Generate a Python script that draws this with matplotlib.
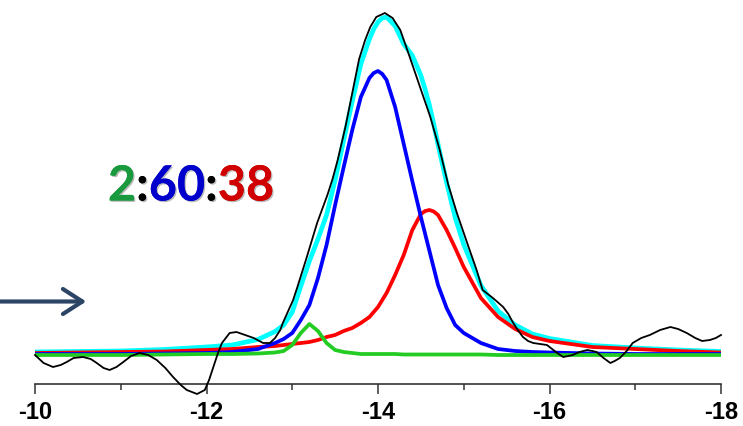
import matplotlib
matplotlib.use("Agg")
import matplotlib.pyplot as plt
import matplotlib.patheffects as pe
from matplotlib.offsetbox import TextArea, HPacker, AnnotationBbox
from matplotlib.patches import FancyArrowPatch
from matplotlib.ticker import MultipleLocator

# ── Fitted components on a shared shift grid (ppm) ───────────────────────────
shift_fit = [-10.0, -10.5, -11.0, -11.5, -12.0, -12.3, -12.6, -12.8, -12.9, -13.0,
             -13.1, -13.2, -13.3, -13.4, -13.5, -13.6, -13.7, -13.8, -13.9, -13.95,
             -14.0, -14.05, -14.1, -14.2, -14.3, -14.4, -14.5, -14.55, -14.6, -14.65,
             -14.7, -14.8, -14.9, -15.0, -15.2, -15.4, -15.6, -15.8, -16.0, -16.5,
             -17.0, -17.5, -18.0]

comp_blue = [1, 1, 1, 1.5, 2, 3, 6, 12, 16, 22,
             35, 50, 77, 110, 150, 188, 225, 258, 277, 282,
             284, 281, 275, 248, 211, 174, 138, 121, 104, 87,
             70, 47, 30, 22, 12, 6, 4, 3, 2.5, 1.5,
             1, 1, 1]

comp_red = [2, 2.5, 3, 3.5, 5, 6, 8, 9, 10, 11,
            12, 13, 15, 18, 20, 24, 27, 32, 38, 43,
            48, 55, 62, 80, 100, 125, 141, 144, 145, 143.5,
            140, 125, 107, 88, 57, 38, 26, 18, 14, 8,
            6, 4, 2.5]

comp_green = [0, 0, 0, 0.5, 1, 1, 1.5, 2.5, 4, 10,
              22, 31, 24, 12, 5, 3, 2, 1, 1, 1,
              1, 1, 1, 1, 0.5, 0.5, 0.5, 0.5, 0.5, 0.5,
              0.5, 0.5, 0.5, 0.5, 0.5, 0, 0, 0, 0, 0,
              0, 0, 0]

fit_total = [3, 3.5, 4, 5.5, 8, 10, 15.5, 23.5, 30, 43,
             69, 94, 116, 140, 175, 215, 254, 291, 316, 326,
             333, 337, 338, 329, 311, 299.5, 279.5, 265.5, 249.5, 231,
             210.5, 172.5, 137.5, 110.5, 69.5, 44, 30, 21, 16.5, 9.5,
             7, 5, 3.5]

# ── Measured spectrum ────────────────────────────────────────────────────────
shift_exp = [-10.0, -10.1, -10.21, -10.3, -10.37, -10.45, -10.56, -10.65, -10.72, -10.8,
             -10.87, -10.95, -11.03, -11.12, -11.22, -11.32, -11.42, -11.52, -11.61, -11.7,
             -11.77, -11.89, -11.98, -12.03, -12.08, -12.13, -12.18, -12.27, -12.35, -12.45,
             -12.55, -12.66, -12.74, -12.8, -12.86, -12.89, -13.01, -13.06, -13.17, -13.29,
             -13.41, -13.47, -13.53, -13.62, -13.7, -13.78, -13.85, -13.91, -13.98, -14.08,
             -14.17, -14.26, -14.37, -14.49, -14.61, -14.72, -14.82, -14.92, -15.04, -15.15,
             -15.22, -15.34, -15.46, -15.52, -15.57, -15.63, -15.69, -15.75, -15.81, -15.89,
             -15.97, -16.03, -16.09, -16.16, -16.22, -16.27, -16.35, -16.44, -16.5, -16.55,
             -16.63, -16.71, -16.76, -16.82, -16.9, -16.97, -17.07, -17.17, -17.29, -17.41,
             -17.5, -17.6, -17.7, -17.78, -17.87, -17.94, -18.0]

intensity_exp = [0, -8, -12, -10, -7, -3, -2, -4, -8, -13,
                 -15, -12, -7, -1, 2, 0, -5, -13, -22, -30,
                 -35, -39, -35, -25, -12, 1, 12, 22, 23, 20,
                 17, 12, 12, 17, 25, 32, 55, 68, 98, 132,
                 160, 176, 195, 228, 262, 296, 315, 328, 338, 342,
                 337, 325, 298, 268, 238, 205, 170, 142, 112, 85,
                 65, 57, 48, 41, 33, 25, 18, 14, 12, 11,
                 10, 6, 2, -2, -1, 0, 3, 5, 4, 3,
                 -3, -8, -6, -3, 4, 12, 17, 20, 25, 28,
                 26, 22, 17, 14, 15, 17, 20]

ratio_parts = ["2", ":", "60", ":", "38"]
ratio_colors = ["#1a9a3e", "black", "#0000cc", "black", "#d00000"]

x_ticks = [-10, -12, -14, -16, -18]

fig = plt.figure(figsize=(7.43, 4.26), dpi=100)
ax = fig.add_axes([35 / 743, 42 / 426, 686 / 743, 384 / 426])

ax.plot(shift_fit, fit_total, color="#00ffff", lw=3.4, solid_joinstyle="round", zorder=1)
ax.plot(shift_fit, comp_red, color="#ff0000", lw=2.7, solid_joinstyle="round", zorder=2)
ax.plot(shift_fit, comp_blue, color="#0000ff", lw=2.7, solid_joinstyle="round", zorder=3)
ax.plot(shift_fit, comp_green, color="#22cc22", lw=2.7, solid_joinstyle="round", zorder=4)
ax.plot(shift_exp, intensity_exp, color="black", lw=1.3, solid_joinstyle="round",
        zorder=5, clip_on=False)

ax.set_xlim(-10, -18)
ax.set_ylim(-29, 355)
ax.set_xticks(x_ticks)
ax.set_xticklabels([str(t) for t in x_ticks], fontsize=17, fontweight="bold",
                   family="Liberation Sans")
ax.xaxis.set_minor_locator(MultipleLocator(1))
ax.tick_params(axis="x", which="major", length=7, width=1.1, pad=5, color="#333333")
ax.tick_params(axis="x", which="minor", length=4, width=1.1, color="#333333")
ax.set_yticks([])
for side in ["top", "left", "right"]:
    ax.spines[side].set_visible(False)
ax.spines["bottom"].set_linewidth(1.2)
ax.spines["bottom"].set_color("#333333")
ax.patch.set_visible(False)

# ratio label built from coloured pieces
shadow = [pe.withSimplePatchShadow(offset=(1, -1), shadow_rgbFace="#777777", alpha=0.5),
          pe.Normal()]
pieces = [TextArea(s, textprops=dict(color=c, fontsize=35, fontweight="bold",
                                     family="Lato", path_effects=shadow))
          for s, c in zip(ratio_parts, ratio_colors)]
packed = HPacker(children=pieces, align="baseline", pad=0, sep=0)
ab = AnnotationBbox(packed, (191, 426 - 186), xycoords="figure pixels",
                    box_alignment=(0.5, 0.5), frameon=False)
fig.add_artist(ab)

# pointer arrow on the left
fig.add_artist(FancyArrowPatch(
    (-5, 426 - 301.5), (89, 426 - 301.5), transform=None,
    arrowstyle="->,head_length=0.7,head_width=0.45", mutation_scale=20,
    lw=3, color="#2d4565", capstyle="round"))

fig.savefig("out.png", dpi=100)
